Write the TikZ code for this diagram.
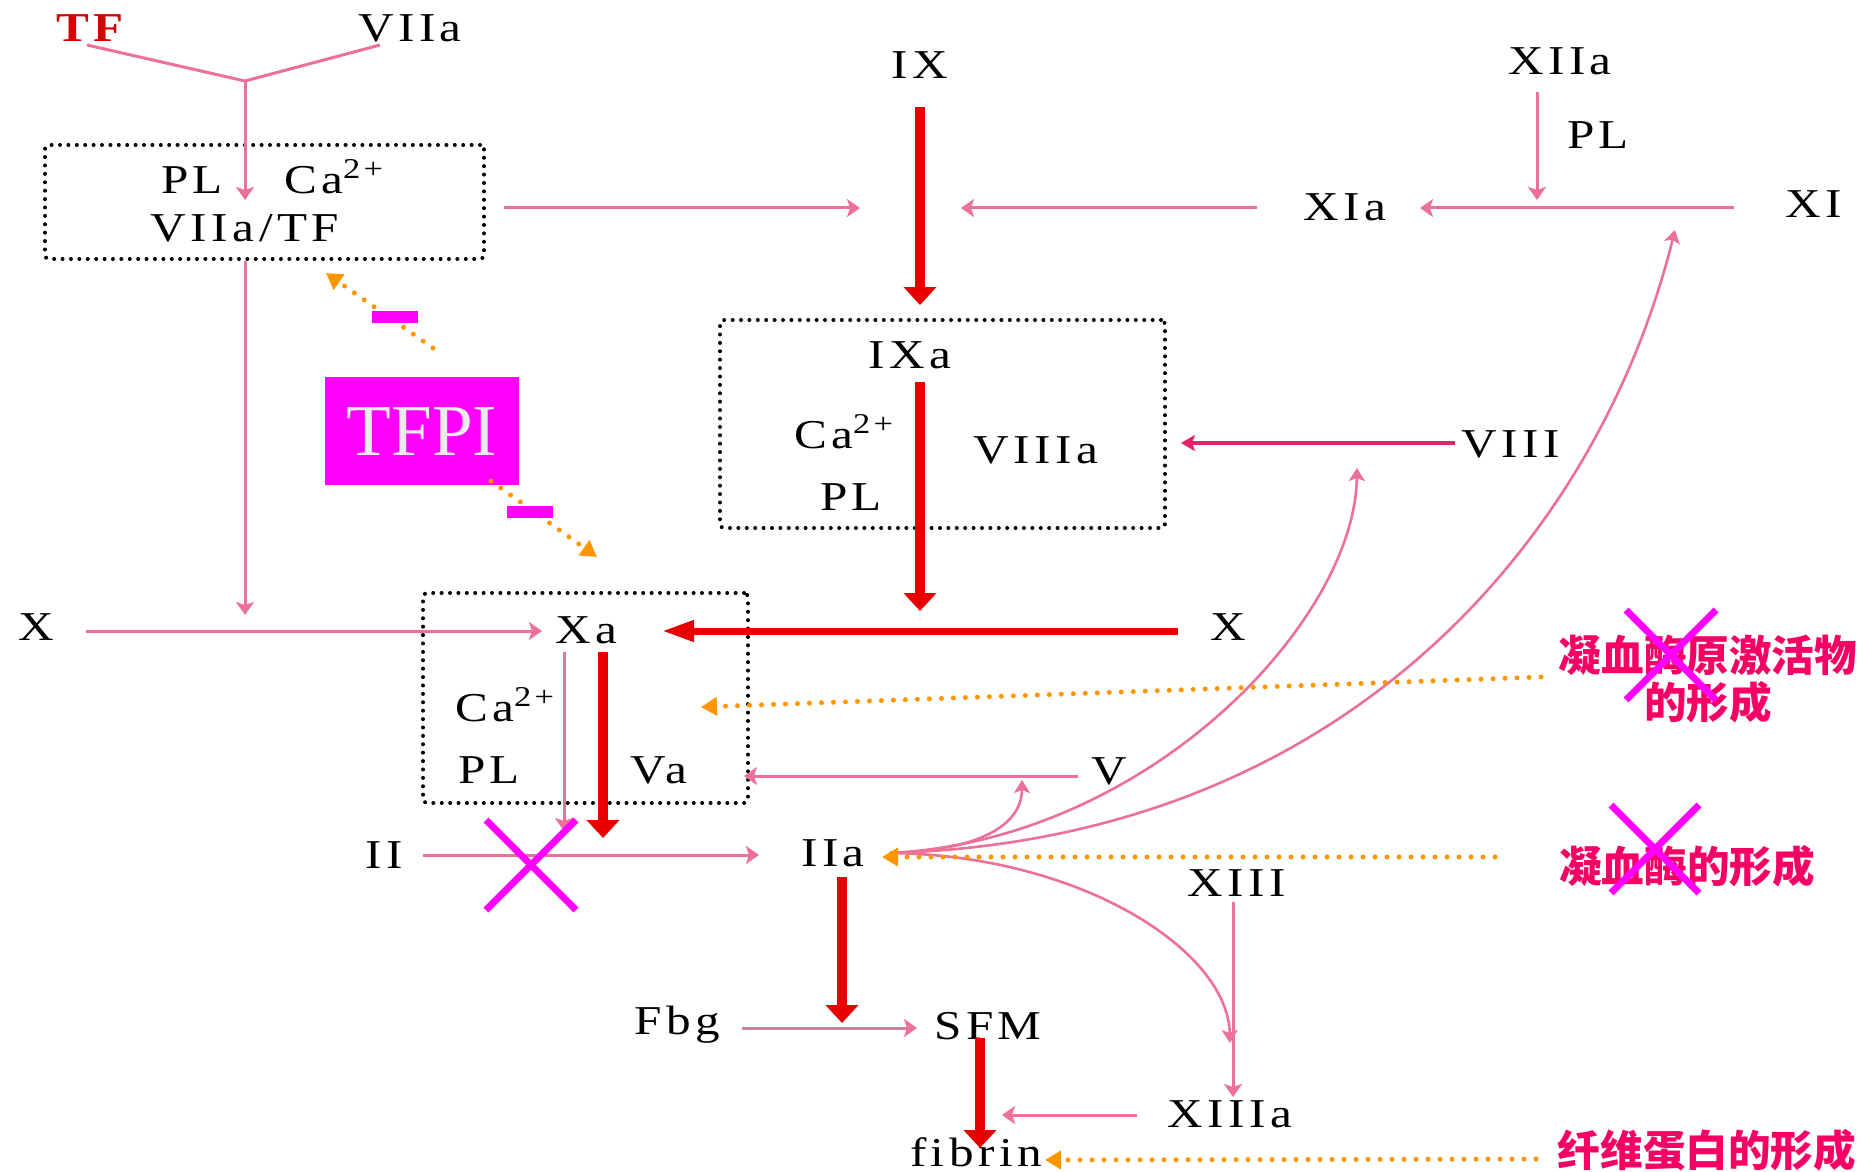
\documentclass[tikz,border=0pt]{standalone}
\usepackage{fontspec}
\setmainfont{Liberation Serif}
\newfontfamily\lat{Liberation Serif}[FakeStretch=1.2, LetterSpace=11]
\newfontfamily\tfpifont{Liberation Serif}
\newfontfamily\cjk{Noto Sans CJK SC}
\usetikzlibrary{arrows.meta}
\definecolor{pinkc}{RGB}{236,112,152}
\definecolor{deeppink}{RGB}{232,32,108}
\definecolor{redc}{RGB}{232,0,0}
\definecolor{tfred}{RGB}{214,0,0}
\definecolor{orangec}{RGB}{255,150,0}
\definecolor{magc}{RGB}{255,0,255}
\definecolor{zhc}{RGB}{245,0,100}
\definecolor{tfpitext}{RGB}{236,236,236}
\tikzset{
 lb/.style={font=\lat\fontsize{20.5}{24}\selectfont, inner sep=0pt, text height=13.4pt, text depth=0pt},
 zh/.style={font=\cjk\bfseries\fontsize{21.3}{23.5}\selectfont, text=zhc, inner sep=0pt, align=center},
 dbox/.style={draw=black, line width=2pt, line cap=round, dash pattern=on 0pt off 4.2pt, rounded corners=2pt, inner sep=0pt},
 pk/.style={draw=pinkc, line width=1.5pt, -{Stealth[length=6.5pt,width=9pt,inset=1.5pt]}},
 pkline/.style={draw=pinkc, line width=1.5pt},
 pkcurve/.style={draw=pinkc, line width=1.3pt, -{Stealth[length=6.5pt,width=8pt,inset=1.5pt]}},
 deep/.style={draw=deeppink, line width=2pt, -{Stealth[length=7pt,width=8pt,inset=1.5pt]}},
 rdv/.style={draw=redc, line width=5pt, -{Triangle[length=9pt,width=16pt]}},
 rdh/.style={draw=redc, line width=3.5pt, -{Triangle[length=16pt,width=10pt]}},
 od/.style={draw=orangec, line width=2.5pt, line cap=round, dash pattern=on 0pt off 6pt, -{Triangle[length=8pt,width=9pt]}},
 cross/.style={draw=magc, line width=3.5pt},
 minus/.style={fill=magc, minimum width=23pt, minimum height=6pt, inner sep=0pt},
}
\begin{document}
\begin{tikzpicture}[x=0.5pt,y=-0.5pt]
\path[use as bounding box, fill=white] (0,0) rectangle (1860,1172);

% ---- boxes
\node[dbox, minimum width=219.5pt, minimum height=57pt] (box1) at (264.5,202) {};
\node[dbox, minimum width=222.5pt, minimum height=104pt] (box2) at (942.5,424) {};
\node[dbox, minimum width=162.5pt, minimum height=105pt] (box3) at (585.5,698) {};

% ---- labels
\node[lb, font=\lat\bfseries\fontsize{20.5}{24}\selectfont, text=tfred] (tf) at (90,28) {TF};
\node[lb] (viia) at (410,28) {VIIa};
\node[lb] (pl1) at (192,180) {PL};
\node[lb] (ca1) at (334,180) {Ca\textsuperscript{2+}};
\node[lb] (viiatf) at (245,228) {VIIa/TF};
\node[lb] (ix) at (920,65) {IX};
\node[lb] (xiia) at (1560,61) {XIIa};
\node[lb] (pl2) at (1598,135) {PL};
\node[lb] (xia) at (1345,207) {XIa};
\node[lb] (xi) at (1814,204) {XI};
\node[lb] (ixa) at (910,355) {IXa};
\node[lb] (ca2) at (844,435) {Ca\textsuperscript{2+}};
\node[lb] (pl3) at (851,497) {PL};
\node[lb] (viiia) at (1036,450) {VIIIa};
\node[lb] (viii) at (1511,444) {VIII};
\node[lb] (xl) at (36,627) {X};
\node[lb] (xa) at (586,630) {Xa};
\node[lb] (xr) at (1228,627) {X};
\node[lb] (ca3) at (505,708) {Ca\textsuperscript{2+}};
\node[lb] (pl4) at (489,770) {PL};
\node[lb] (va) at (659,770) {Va};
\node[lb] (v) at (1109,771) {V};
\node[lb] (ii) at (384,855) {II};
\node[lb] (iia) at (833,853) {IIa};
\node[lb] (xiii) at (1237,883) {XIII};
\node[lb] (fbg) at (677,1021) {Fbg};
\node[lb] (sfm) at (988,1026) {SFM};
\node[lb] (xiiia) at (1230,1114) {XIIIa};
\node[lb, anchor=base] (fibrin) at (976,1166) {fibrin};

\node[fill=magc, minimum width=97pt, minimum height=54pt, inner sep=0pt, text height=24pt, text depth=0pt,
      font=\tfpifont\fontsize{36.6}{40}\selectfont, text=tfpitext] (tfpi) at (422,431) {TFPI};
\node[minus] (m1) at (395,317) {};
\node[minus] (m2) at (530,512) {};

\node[zh] (zh1) at (1708,679) {凝血酶原激活物\\的形成};
\node[zh] (zh2) at (1687,866) {凝血酶的形成};
\node[zh] (zh3) at (1707,1150) {纤维蛋白的形成};

% ---- coordinates
\coordinate (tfS) at (87,45);
\coordinate (vaS) at (380,45);
\coordinate (J) at (245,81);
\coordinate (jT) at (245,200);
\coordinate (b1S) at (245,261);
\coordinate (b1T) at (245,615);
\coordinate (xlS) at (86,631);
\coordinate (xlT) at (542,631);
\coordinate (ixS) at (920,107);
\coordinate (ixT) at (920,305);
\coordinate (h1S) at (504,208);
\coordinate (h1T) at (860,208);
\coordinate (h2S) at (1257,208);
\coordinate (h2T) at (961,208);
\coordinate (xiS) at (1734,208);
\coordinate (xiT) at (1420,208);
\coordinate (xiiaS) at (1537,92);
\coordinate (xiiaT) at (1537,200);
\coordinate (ixaS) at (920,382);
\coordinate (ixaT) at (920,611);
\coordinate (xrS) at (1178,631);
\coordinate (xrT) at (662,631);
\coordinate (viiiS) at (1455,443);
\coordinate (viiiT) at (1181,443);
\coordinate (xaP1) at (564,652);
\coordinate (xaP2) at (564,831);
\coordinate (xaR1) at (603,652);
\coordinate (xaR2) at (603,838);
\coordinate (vS) at (1078,776);
\coordinate (vT) at (744,776);
\coordinate (iiS) at (423,855);
\coordinate (iiT) at (759,855);
\coordinate (iiaR1) at (842,877);
\coordinate (iiaR2) at (842,1023);
\coordinate (fbgS) at (742,1028);
\coordinate (fbgT) at (917,1028);
\coordinate (sfmS) at (980,1038);
\coordinate (sfmT) at (980,1148);
\coordinate (xiiiS) at (1233,902);
\coordinate (xiiiT) at (1233,1097);
\coordinate (xiiiaS) at (1137,1115);
\coordinate (xiiiaT) at (1002,1115);
\coordinate (iiaO) at (890,853);
\coordinate (cV) at (1022,780);
\coordinate (cVIII) at (1357,468);
\coordinate (cXI) at (1675,230);
\coordinate (cXIIIa) at (1230,1043);
\coordinate (o1S) at (1541,677);
\coordinate (o1T) at (701,707);
\coordinate (o2S) at (1495,857);
\coordinate (o2T) at (882,857);
\coordinate (o3S) at (1536,1159);
\coordinate (o3T) at (1045,1160);
\coordinate (t1S) at (433,348);
\coordinate (t1T) at (326,273);
\coordinate (t2S) at (491,481);
\coordinate (t2T) at (597,557);

% ---- pink connectors
\draw[pkline] (tfS) -- (J);
\draw[pkline] (vaS) -- (J);
\draw[pk] (J) -- (jT);
\draw[pk] (b1S) -- (b1T);
\draw[pk] (xlS) -- (xlT);
\draw[pk] (h1S) -- (h1T);
\draw[pk] (h2S) -- (h2T);
\draw[pk] (xiS) -- (xiT);
\draw[pk] (xiiaS) -- (xiiaT);
\draw[pk] (xaP1) -- (xaP2);
\draw[pk] (vS) -- (vT);
\draw[pk] (iiS) -- (iiT);
\draw[pk] (fbgS) -- (fbgT);
\draw[pk] (xiiiS) -- (xiiiT);
\draw[pk] (xiiiaS) -- (xiiiaT);
\draw[deep] (viiiS) -- (viiiT);

% ---- curves from IIa
\draw[pkcurve] (iiaO) .. controls (990,850) and (1022,820) .. (cV);
\draw[pkcurve] (iiaO) .. controls (1150,840) and (1355,620) .. (cVIII);
\draw[pkcurve] (iiaO) .. controls (1350,840) and (1600,532) .. (cXI);
\draw[pkcurve] (iiaO) .. controls (1080,855) and (1228,950) .. (cXIIIa);

% ---- red connectors
\draw[rdv] (ixS) -- (ixT);
\draw[rdv] (ixaS) -- (ixaT);
\draw[rdh] (xrS) -- (xrT);
\draw[rdv] (xaR1) -- (xaR2);
\draw[rdv] (iiaR1) -- (iiaR2);
\draw[rdv] (sfmS) -- (sfmT);

% ---- orange dotted
\draw[od] (o1S) -- (o1T);
\draw[od] (o2S) -- (o2T);
\draw[od] (o3S) -- (o3T);
\draw[od] (t1S) -- (t1T);
\draw[od] (t2S) -- (t2T);
\node[minus] at (m1) {};
\node[minus] at (m2) {};

% ---- magenta crosses
\draw[cross] (531,865) +(-45,-45) -- +(45,45) (531,865) +(-45,45) -- +(45,-45);
\draw[cross] (1671,655) +(-45,-45) -- +(45,45) (1671,655) +(-45,45) -- +(45,-45);
\draw[cross] (1655,849) +(-44,-44) -- +(44,44) (1655,849) +(-44,44) -- +(44,-44);
\end{tikzpicture}
\end{document}
